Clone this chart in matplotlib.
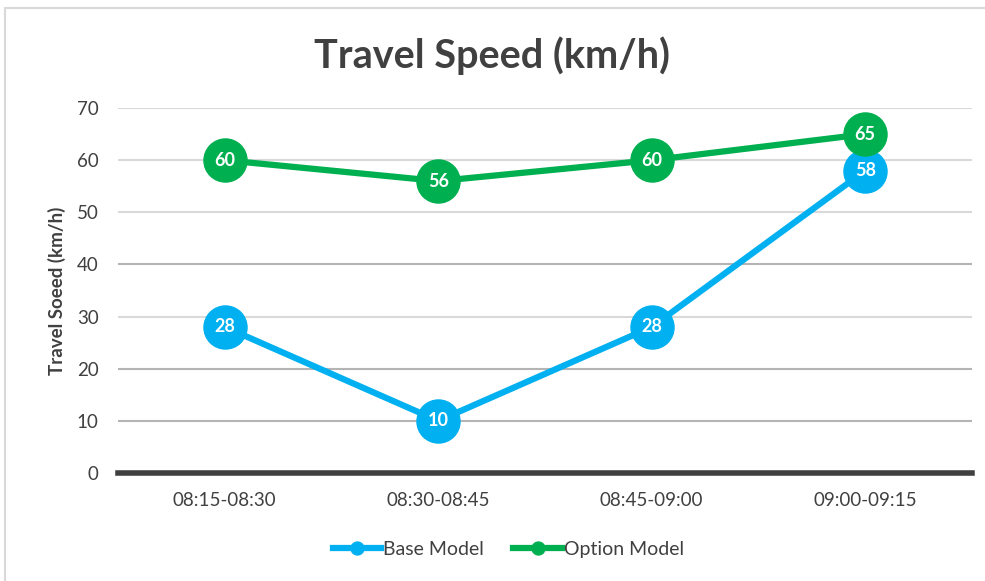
import numpy as np
import matplotlib.pyplot as plt
from matplotlib.patches import Rectangle

periods = ['08:15-08:30', '08:30-08:45', '08:45-09:00', '09:00-09:15']
base_model = [28, 10, 28, 58]
option_model = [60, 56, 60, 65]

plt.rcParams['font.family'] = ['Lato', 'DejaVu Sans']
txt = '#404040'
blue = '#00B0F0'
green = '#00B050'

fig = plt.figure(figsize=(9.85, 5.81), dpi=100)
ax = fig.add_axes([0.1198, 0.186, 0.867, 0.628])

# chart border
fig.patches.append(Rectangle((0.005, -0.05), 1.2, 1.036, transform=fig.transFigure,
                             fill=False, edgecolor='#d9d9d9', lw=1.5))

x = np.arange(len(periods))
ax.plot(x, base_model, color=blue, lw=4.5, marker='o', ms=31, label='Base Model', zorder=3)
ax.plot(x, option_model, color=green, lw=4.5, marker='o', ms=31, label='Option Model', zorder=3)

for i in range(len(x)):
    ax.text(x[i], base_model[i], str(base_model[i]), color='white', fontsize=13,
            fontweight='bold', ha='center', va='center', zorder=4)
    ax.text(x[i], option_model[i], str(option_model[i]), color='white', fontsize=13,
            fontweight='bold', ha='center', va='center', zorder=4)

ax.set_xlim(-0.5, 3.5)
ax.set_ylim(0, 70)
ax.set_yticks(range(0, 71, 10))
ax.set_xticks(x, periods)
for y in range(10, 71, 10):
    c = '#b4b4b4' if y in (10, 20, 40) else '#d9d9d9'
    ax.axhline(y, color=c, lw=1.5, zorder=1)
ax.axhline(0, color='#404040', lw=4, zorder=2, clip_on=False)

for s in ax.spines.values():
    s.set_visible(False)
ax.tick_params(length=0, colors=txt, labelsize=13.5)
ax.tick_params(axis='x', pad=14)
ax.tick_params(axis='y', pad=14)
for lab in ax.get_xticklabels() + ax.get_yticklabels():
    lab.set_color(txt)

ax.set_ylabel('Travel Soeed (km/h)', fontsize=13.5, fontweight='bold', color=txt, labelpad=8)
fig.suptitle('Travel Speed (km/h)', fontsize=28.5, fontweight='bold', color=txt, y=0.905,
             va='center')

leg = fig.legend(loc='center', bbox_to_anchor=(0.516, 0.055), ncol=2, frameon=False,
                 fontsize=14, markerscale=0.3, handlelength=2.5, handletextpad=0.1,
                 columnspacing=1.5)
for t in leg.get_texts():
    t.set_color(txt)

plt.savefig('out.png', dpi=100)
